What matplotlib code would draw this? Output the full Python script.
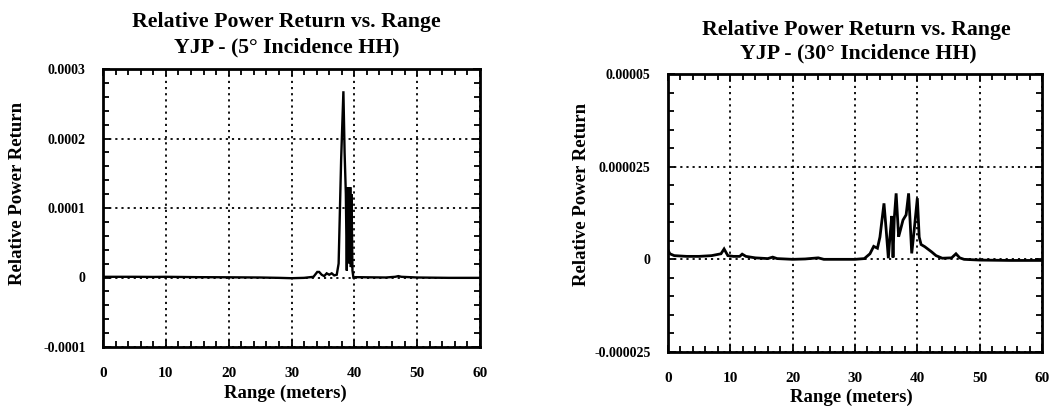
import matplotlib
matplotlib.use("Agg")
import matplotlib.pyplot as plt
from matplotlib.ticker import MultipleLocator, FixedLocator

# ---------------- data ----------------
left_range = [0, 2, 5, 8, 10, 15, 20, 25, 28, 30, 32, 33.5, 34.1, 34.4, 34.8,
              35.2, 35.6, 36.0, 36.4, 36.8, 37.2, 37.5, 37.9, 38.26, 38.45,
              38.65, 38.8, 38.95, 39.05, 39.15, 39.25, 39.35, 39.45, 39.55,
              39.7, 39.85, 40.2, 42, 45, 46.5, 47.0, 47.5, 50, 55, 60]
left_power = [0.000001, 0.000001, 0.000001, 0.0000008, 0.000001, 0.0000005,
              0.0000003, 0.0, -0.0000005, -0.000001, -0.0000005, 0.000001,
              0.000008, 0.000008, 0.000004, 0.000002, 0.000006, 0.000004,
              0.000006, 0.000003, 0.000004, 0.00002, 0.00017, 0.000268,
              0.00018, 0.00012, 0.00001, 0.00013, 0.00003, 0.00013, 0.00002,
              0.00013, 0.000015, 0.00012, 0.00001, 0.0, 0.0000005, 0.0000003,
              0.0, 0.000001, 0.000002, 0.000001, 0.0, -0.0000005, -0.0000005]

right_range = [0, 0.3, 1, 3, 5, 7, 8.5, 9.0, 9.6, 10.5, 11.5, 11.9, 12.5, 14,
               16, 16.8, 17.5, 20, 22, 24.1, 25, 28, 30, 31.5, 32.4, 33.0,
               33.6, 34.0, 34.65, 35.0, 35.35, 35.6, 35.9, 36.1, 36.3, 36.6,
               37.0, 37.3, 37.7, 38.2, 38.6, 38.85, 39.1, 39.5, 40.0, 40.3,
               40.6, 41.2, 42.3, 43.0, 44.0, 45.5, 46.2, 46.8, 47.5, 50, 55, 60]
right_power = [0.0000025, 0.0000015, 0.000001, 0.0000008, 0.0000008, 0.000001,
               0.0000015, 0.0000028, 0.000001, 0.0000008, 0.0000008, 0.0000014,
               0.0000008, 0.0000004, 0.0000002, 0.0000006, 0.0000002, 0.0,
               0.0000001, 0.0000004, 0.0, 0.0, 0.0, 0.0000002, 0.0000015,
               0.0000035, 0.000003, 0.000006, 0.0000151, 0.000008, 0.0000003,
               0.000006, 0.0000117, 0.0000005, 0.000011, 0.0000178, 0.0000061,
               0.000008, 0.0000106, 0.000012, 0.0000178, 0.00001, 0.0000016,
               0.000008, 0.0000165, 0.000006, 0.000004, 0.0000034, 0.000002,
               0.000001, 0.0000003, 0.0000004, 0.0000015, 0.0000004, 0.0,
               -0.0000002, -0.0000003, -0.0000003]

x_ticks = [0, 10, 20, 30, 40, 50, 60]
left_yticks = [-0.0001, 0, 0.0001, 0.0002, 0.0003]
left_ylabels = ["-0.0001", "0", "0.0001", "0.0002", "0.0003"]
right_yticks = [-0.000025, 0, 0.000025, 0.00005]
right_ylabels = ["-0.000025", "0", "0.000025", "0.00005"]

title_main = "Relative Power Return vs. Range"
subtitles = ["YJP - (5° Incidence HH)", "YJP - (30° Incidence HH)"]
xlabel = "Range (meters)"
ylabel = "Relative Power Return"

# ---------------- figure ----------------
W, H = 1049, 409
FONT = ["Liberation Serif", "DejaVu Serif"]
fig = plt.figure(figsize=(W / 100, H / 100), dpi=100)
fig.patch.set_facecolor("white")


def px_axes(x0, y0, x1, y1):
    return fig.add_axes([x0 / W, 1 - y1 / H, (x1 - x0) / W, (y1 - y0) / H])


ax1 = px_axes(103, 69, 480, 347)
ax2 = px_axes(668, 74, 1042, 352)

# per-panel layout (pixels)
specs = [
    dict(ax=ax1, xs=left_range, ys=left_power, yt=left_yticks,
         yl=left_ylabels, ylim=(-0.0001, 0.0003), yminor=0.00002,
         sub=subtitles[0], lw=1.7, t1=(286.5, 22), t2=(287, 47),
         ylab=(-0.2255, 0.554), xlab=(0.484, -0.165), xpad=14.5),
    dict(ax=ax2, xs=right_range, ys=right_power, yt=right_yticks,
         yl=right_ylabels, ylim=(-0.000025, 0.00005), yminor=0.000005,
         sub=subtitles[1], lw=2.0, t1=(856.5, 30), t2=(858, 53),
         ylab=(-0.23, 0.565), xlab=(0.489, -0.162), xpad=14.5),
]

for s in specs:
    ax = s["ax"]
    ax.plot(s["xs"], s["ys"], color="black", lw=s["lw"],
            solid_joinstyle="miter")
    ax.set_xlim(0, 60)
    ax.set_ylim(*s["ylim"])
    ax.xaxis.set_major_locator(FixedLocator(x_ticks))
    ax.xaxis.set_minor_locator(MultipleLocator(2))
    ax.yaxis.set_major_locator(FixedLocator(s["yt"]))
    ax.yaxis.set_minor_locator(MultipleLocator(s["yminor"]))
    ax.set_yticklabels(s["yl"])
    ax.set_xticklabels([str(v) for v in x_ticks])
    ax.tick_params(which="both", direction="in", top=True, right=True,
                   color="black", width=1.3)
    ax.tick_params(which="major", length=5)
    ax.tick_params(which="minor", length=4)
    ax.tick_params(axis="y", labelsize=10, pad=12.5)
    ax.tick_params(axis="x", labelsize=11, pad=s["xpad"])
    for lab in ax.get_xticklabels() + ax.get_yticklabels():
        lab.set_fontfamily(FONT)
        lab.set_fontweight("bold")
    ax.grid(True, which="major", color="black", linestyle=(0, (1.2, 2.2)),
            lw=1.3)
    for sp in ax.spines.values():
        sp.set_linewidth(2.0)
        sp.set_color("black")
    ax.set_xlabel(xlabel, fontsize=13.5, fontweight="bold", family=FONT)
    ax.xaxis.set_label_coords(*s["xlab"])
    ax.xaxis.label.set_va("center")
    ax.set_ylabel(ylabel, fontsize=13.5, fontweight="bold", family=FONT)
    ax.yaxis.set_label_coords(*s["ylab"])
    ax.yaxis.label.set_va("center")
    for (px, py), txt in ((s["t1"], title_main), (s["t2"], s["sub"])):
        fig.text(px / W, 1 - py / H, txt, ha="center", va="center",
                 fontsize=15.7, fontweight="bold", family=FONT)

fig.savefig("out.png", dpi=100, facecolor="white")
